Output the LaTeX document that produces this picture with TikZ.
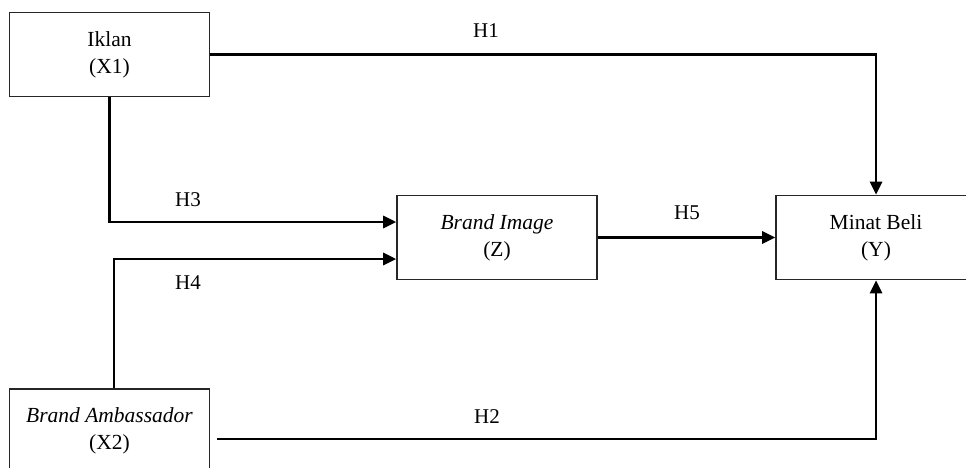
\documentclass[tikz,border=0pt]{standalone}
\usepackage{fontspec}
\setmainfont{Liberation Serif}
\usetikzlibrary{arrows.meta,calc}
\begin{document}
\begin{tikzpicture}[x=1pt,y=-1pt,
  varbox/.style={draw=black!85,line width=1.6pt,fill=white,align=center,
    minimum width=200pt,minimum height=84pt,inner sep=0pt,
    font=\fontsize{21.5}{27}\selectfont},
  link/.style={line width=2.7pt,black,-{Triangle[length=13pt,width=12pt]}},
  hyp/.style={font=\fontsize{21}{27}\selectfont,inner sep=0pt}]
  \useasboundingbox (0,0) rectangle (966,468);
  \clip (0,0) rectangle (966,468);

  % variables
  \node[varbox] (iklan) at (109.5,54.5) {Iklan\\(X1)};
  \node[varbox] (amb)   at (109.5,431)  {\textit{Brand Ambassador}\\(X2)};
  \node[varbox] (img)   at (497,237.5)  {\textit{Brand Image}\\(Z)};
  \node[varbox] (minat) at (876,237.5)  {Minat Beli\\(Y)};

  % hypothesised paths
  \draw[link] (iklan.east) -| (minat.north);
  \draw[link] (iklan.south) |- ([yshift=15.5pt]img.west);
  \draw[link] ([xshift=4.5pt]amb.north) |- ([yshift=-21.5pt]img.west);
  \draw[link] (img.east) -- (minat.west);
  \coordinate (h2start) at (217,439);
  \draw[link] (h2start) -| (minat.south);

  % path labels
  \node[hyp] (h1) at (486,31)  {H1};
  \node[hyp] (h2) at (487,417) {H2};
  \node[hyp] (h3) at (188,200) {H3};
  \node[hyp] (h4) at (188,283) {H4};
  \node[hyp] (h5) at (687,213) {H5};
\end{tikzpicture}
\end{document}
